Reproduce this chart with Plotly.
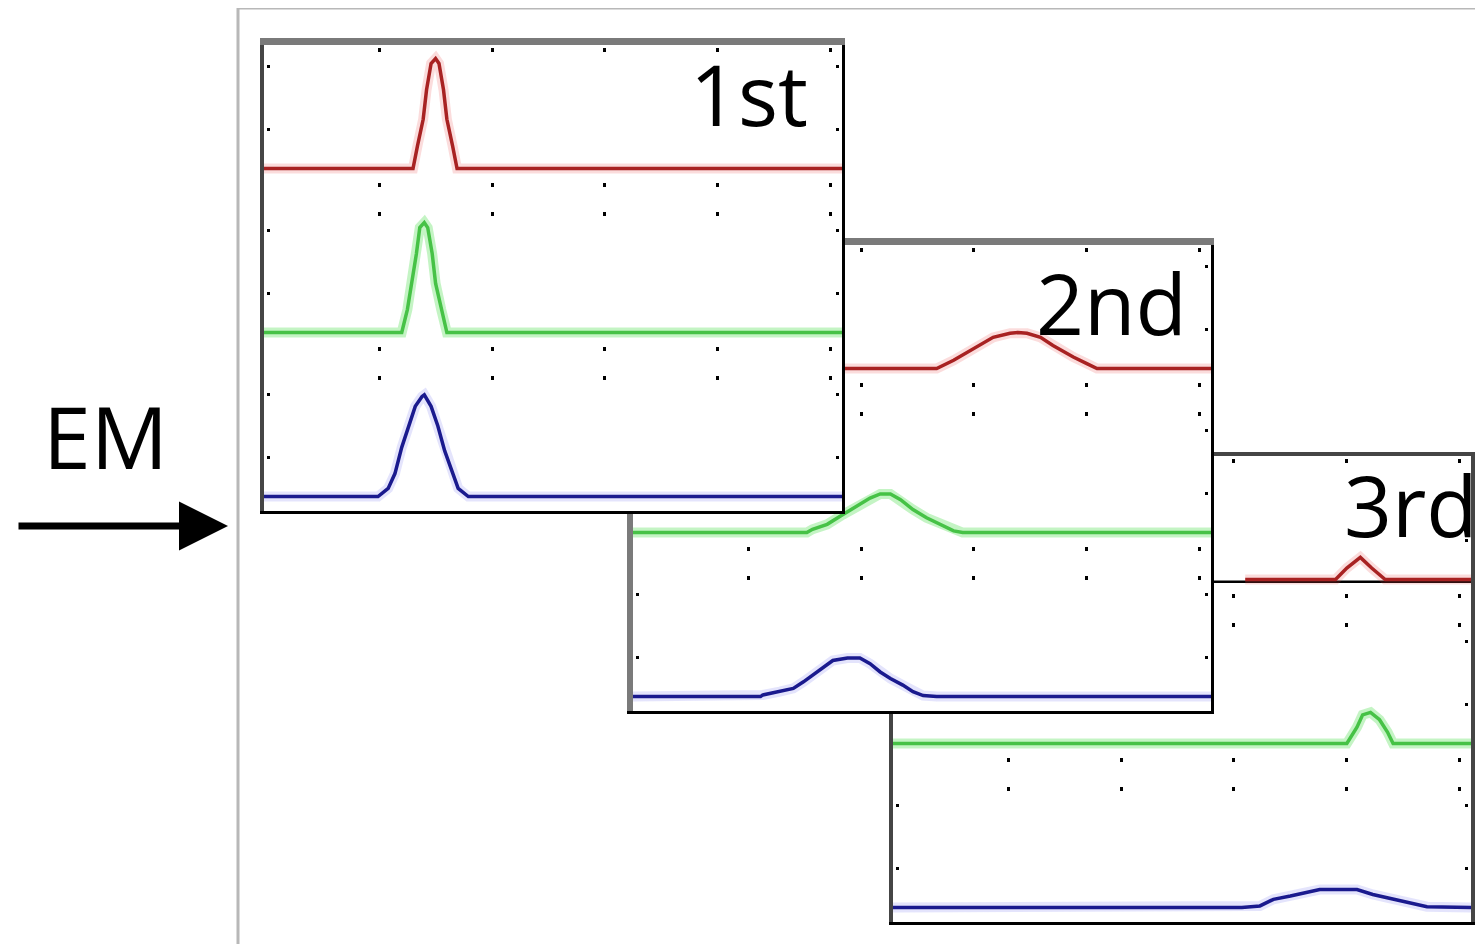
import plotly.graph_objects as go

PAGE_W, PAGE_H = 1483, 944
BODY_MARGIN = 8          # the html body margin shifts the figure by 8 px
W, H = PAGE_W - BODY_MARGIN, PAGE_H - BODY_MARGIN

# ---------------- data ----------------
x_range = [-0.02, 5.10]
y_range = [-0.088, 2.753]
x_grid_ticks = [1, 2, 3, 4, 5]
y_tick_heights = [0.24, 0.62]
row_offsets = {"red": 2, "green": 1, "blue": 0}

# Panel "1st"
p1_red_x = [-0.02, 1.30, 1.34, 1.39, 1.42, 1.46, 1.50, 1.53, 1.57, 1.60, 1.65, 1.69, 5.10]
p1_red_y = [0, 0, 0.14, 0.30, 0.48, 0.64, 0.67, 0.64, 0.48, 0.30, 0.14, 0, 0]
p1_green_x = [-0.02, 1.20, 1.25, 1.29, 1.33, 1.36, 1.40, 1.43, 1.47, 1.50, 1.55, 1.60, 5.10]
p1_green_y = [0, 0, 0.14, 0.30, 0.48, 0.64, 0.67, 0.64, 0.48, 0.30, 0.14, 0, 0]
p1_blue_x = [-0.02, 0.99, 1.08, 1.14, 1.20, 1.26, 1.32, 1.38, 1.40, 1.46, 1.52, 1.58, 1.65, 1.70, 1.79, 5.10]
p1_blue_y = [0, 0, 0.05, 0.14, 0.30, 0.43, 0.55, 0.61, 0.62, 0.55, 0.43, 0.28, 0.14, 0.05, 0, 0]

# Panel "2nd"
p2_red_x = [-0.02, 2.67, 2.82, 2.99, 3.17, 3.32, 3.39, 3.47, 3.59, 3.70, 3.88, 4.00, 4.09, 5.10]
p2_red_y = [0, 0, 0.05, 0.12, 0.19, 0.215, 0.22, 0.215, 0.19, 0.14, 0.07, 0.03, 0, 0]
p2_green_x = [-0.02, 1.52, 1.57, 1.70, 1.84, 1.96, 2.08, 2.17, 2.26, 2.35, 2.46, 2.58, 2.70, 2.82, 2.90, 5.10]
p2_green_y = [0, 0, 0.02, 0.05, 0.11, 0.16, 0.21, 0.235, 0.235, 0.20, 0.14, 0.09, 0.05, 0.01, 0, 0]
p2_blue_x = [-0.02, 1.11, 1.13, 1.28, 1.40, 1.49, 1.57, 1.66, 1.75, 1.88, 1.99, 2.08, 2.17, 2.26, 2.37, 2.46, 2.55, 2.67, 5.10]
p2_blue_y = [0, 0, 0.01, 0.03, 0.05, 0.09, 0.13, 0.18, 0.22, 0.235, 0.235, 0.20, 0.15, 0.11, 0.07, 0.03, 0.006, 0, 0]

# Panel "3rd"
p3_red_x = [3.10, 3.90, 4.00, 4.12, 4.22, 4.34, 5.10]
p3_red_y = [0, 0, 0.07, 0.135, 0.07, 0, 0]
p3_green_x = [-0.02, 4.00, 4.09, 4.14, 4.21, 4.29, 4.36, 4.41, 5.10]
p3_green_y = [0, 0, 0.10, 0.175, 0.19, 0.145, 0.07, 0, 0]
p3_blue_x = [-0.02, 3.07, 3.23, 3.35, 3.50, 3.65, 3.76, 3.91, 4.09, 4.23, 4.41, 4.59, 4.71, 5.10]
p3_blue_y = [0, 0, 0.01, 0.05, 0.07, 0.09, 0.11, 0.11, 0.11, 0.08, 0.05, 0.02, 0.005, 0]

panel_labels = ["1st", "2nd", "3rd"]
arrow_label = "EM"

# ---------------- styles ----------------
line_colors = {"red": "#a82222", "green": "#46c246", "blue": "#1a1a8e"}
glow_colors = {"red": "rgba(235,80,80,0.20)", "green": "rgba(100,225,100,0.38)",
               "blue": "rgba(90,90,235,0.16)"}


def fx(px):
    return (px - BODY_MARGIN) / W


def fy(py):
    return 1 - (py - BODY_MARGIN) / H


# panels listed bottom-most first (later ones are drawn on top)
panels = [
    dict(label=panel_labels[2], box=(893, 1471, 456, 922),
         series={"red": (p3_red_x, p3_red_y), "green": (p3_green_x, p3_green_y),
                 "blue": (p3_blue_x, p3_blue_y)},
         top=("#454545", 4), bottom=("#000000", 3), left=("#454545", 4), right=("#454545", 4),
         row_axis="red",
         label_pos=(1480, 504)),
    dict(label=panel_labels[1], box=(633, 1211, 245, 711),
         series={"red": (p2_red_x, p2_red_y), "green": (p2_green_x, p2_green_y),
                 "blue": (p2_blue_x, p2_blue_y)},
         top=("#7a7a7a", 7), bottom=("#000000", 3), left=("#7a7a7a", 6), right=("#000000", 3),
         row_axis=None,
         label_pos=(1189, 302)),
    dict(label=panel_labels[0], box=(264, 842, 45, 511),
         series={"red": (p1_red_x, p1_red_y), "green": (p1_green_x, p1_green_y),
                 "blue": (p1_blue_x, p1_blue_y)},
         top=("#7a7a7a", 7), bottom=("#000000", 3), left=("#454545", 4), right=("#000000", 3),
         row_axis=None,
         label_pos=(810, 93)),
]

fig = go.Figure()
layout = dict(
    width=W, height=H,
    margin=dict(l=0, r=0, t=0, b=0),
    paper_bgcolor="#ffffff", plot_bgcolor="#ffffff",
    showlegend=False,
)

hidden = dict(showgrid=False, zeroline=False, showticklabels=False, ticks="",
              showline=False, fixedrange=True)
# base (full-page) subplot so every panel gets its own opaque background
layout["xaxis"] = dict(domain=[0, 1], range=[0, 1], **hidden)
layout["yaxis"] = dict(domain=[0, 1], range=[0, 1], **hidden)
fig.add_trace(go.Scatter(x=[], y=[], xaxis="x", yaxis="y", hoverinfo="skip"))

y_tickvals = [r + h for r in sorted(row_offsets.values()) for h in y_tick_heights]
annotations = []

for i, p in enumerate(panels):
    n = i + 2
    m = i + 5
    l, r, t, b = p["box"]
    width_px = r - l
    xdom = [fx(l), fx(r)]
    ydom = [fy(b), fy(t)]
    layout[f"xaxis{n}"] = dict(
        domain=xdom, range=x_range, anchor=f"y{n}",
        showline=True, linecolor=p["bottom"][0], linewidth=p["bottom"][1],
        showgrid=True, gridcolor="#000000", gridwidth=2.5,
        griddash="0px,3px,4px,131px,4px,22px",
        tickmode="array", tickvals=x_grid_ticks, ticks="", showticklabels=False,
        zeroline=False, fixedrange=True,
    )
    layout[f"yaxis{n}"] = dict(
        domain=ydom, range=y_range, anchor=f"x{n}",
        showline=True, linecolor=p["left"][0], linewidth=p["left"][1],
        showgrid=True, gridcolor="#000000", gridwidth=2.5,
        griddash=f"0px,3px,3px,{width_px - 12}px,3px,3000px",
        tickmode="array", tickvals=y_tickvals, ticks="", showticklabels=False,
        zeroline=False, fixedrange=True,
    )
    layout[f"xaxis{m}"] = dict(
        overlaying=f"x{n}", anchor=f"y{n}", side="top", range=x_range,
        showline=True, linecolor=p["top"][0], linewidth=p["top"][1],
        showgrid=False, zeroline=False, showticklabels=False, ticks="", fixedrange=True,
    )
    layout[f"yaxis{m}"] = dict(
        overlaying=f"y{n}", anchor=f"x{n}", side="right", range=y_range,
        showline=True, linecolor=p["right"][0], linewidth=p["right"][1],
        showgrid=False, zeroline=False, showticklabels=False, ticks="", fixedrange=True,
    )
    # empty traces so the top / right frame axes get drawn
    fig.add_trace(go.Scatter(x=[], y=[], xaxis=f"x{m}", yaxis=f"y{n}", hoverinfo="skip"))
    fig.add_trace(go.Scatter(x=[], y=[], xaxis=f"x{n}", yaxis=f"y{m}", hoverinfo="skip"))

    if p["row_axis"]:
        off = row_offsets[p["row_axis"]]
        fig.add_trace(go.Scatter(
            x=[x_range[0], x_range[1]], y=[off - 0.014, off - 0.014], mode="lines",
            line=dict(color="#000000", width=2.5), xaxis=f"x{n}", yaxis=f"y{n}",
            hoverinfo="skip"))

    for color in ["red", "green", "blue"]:
        xs, hs = p["series"][color]
        off = row_offsets[color]
        ys = [off + h for h in hs]
        fig.add_trace(go.Scatter(
            x=xs, y=ys, mode="lines", line=dict(color=glow_colors[color], width=10),
            xaxis=f"x{n}", yaxis=f"y{n}", hoverinfo="skip"))
        fig.add_trace(go.Scatter(
            x=xs, y=ys, mode="lines", line=dict(color=line_colors[color], width=3.5),
            xaxis=f"x{n}", yaxis=f"y{n}", name=f"{p['label']} {color}"))

    lx, ly = p["label_pos"]
    annotations.append(dict(
        text=p["label"], x=fx(lx), y=fy(ly), xref="paper", yref="paper",
        xanchor="right", yanchor="middle", showarrow=False,
        font=dict(family="Open Sans", size=84, color="#000000")))

# EM arrow
annotations.append(dict(
    text=arrow_label, x=fx(41), y=fy(436), xref="paper", yref="paper",
    xanchor="left", yanchor="middle", showarrow=False,
    font=dict(family="Open Sans", size=86, color="#000000")))
annotations.append(dict(
    text="", x=fx(228), y=fy(526), xref="paper", yref="paper",
    showarrow=True, ax=-211, ay=0, arrowhead=2, arrowsize=1.4, arrowwidth=7,
    arrowcolor="#000000", standoff=0))

layout["annotations"] = annotations
layout["shapes"] = [dict(
    type="rect", xref="paper", yref="paper",
    x0=fx(238), x1=fx(1560), y0=fy(1000), y1=fy(8),
    line=dict(color="#b8b8b8", width=3), fillcolor="rgba(0,0,0,0)", layer="below")]

fig.update_layout(**layout)
fig.write_html("out.html")
